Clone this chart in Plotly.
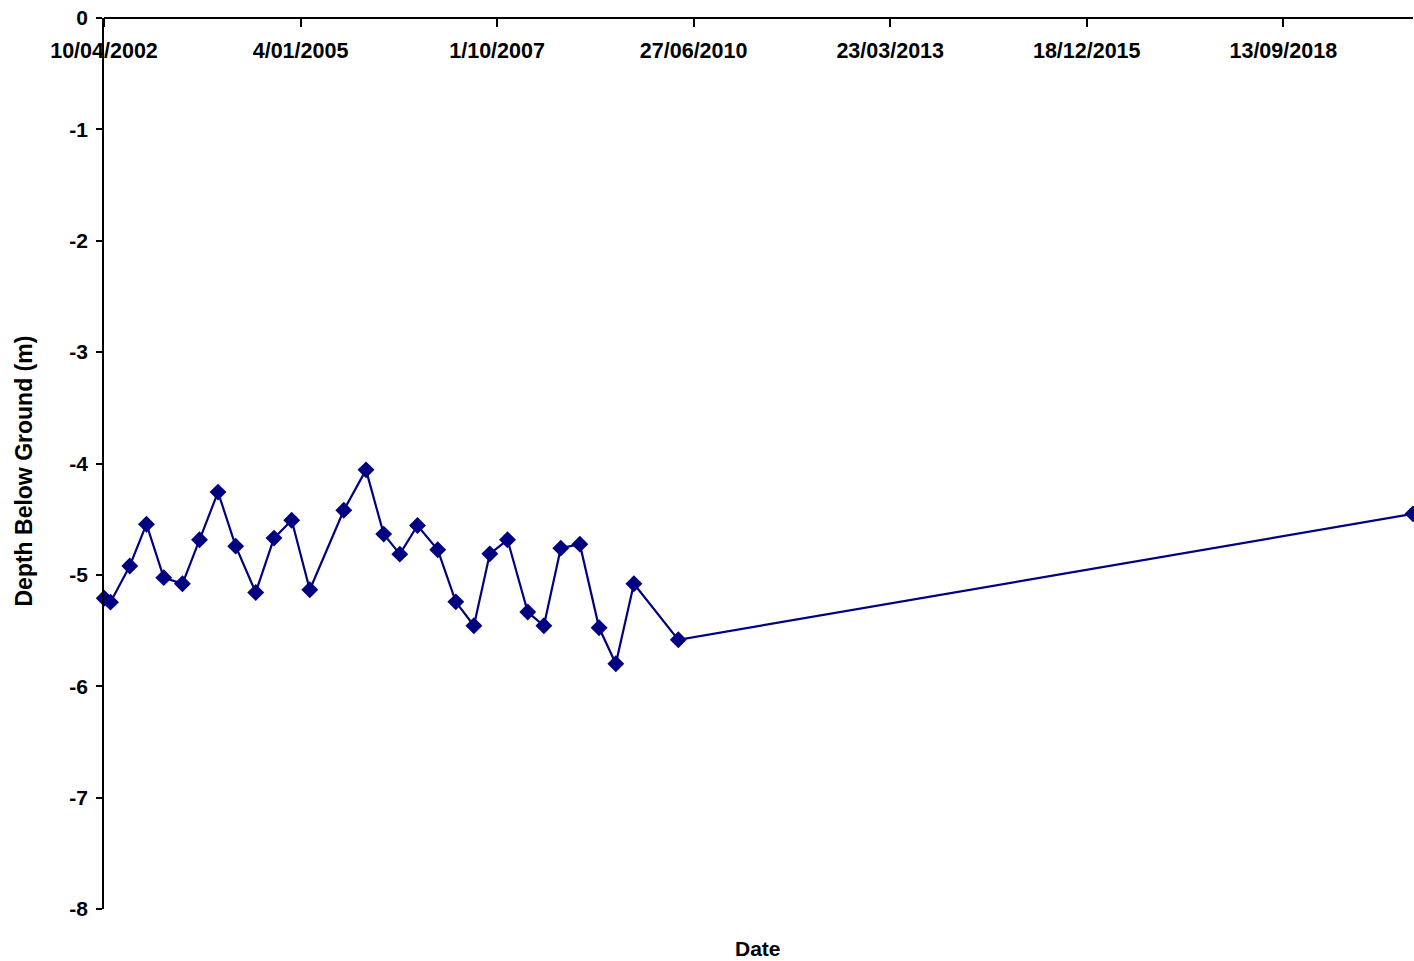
import plotly.graph_objects as go

dates = [
    "2002-04-11", "2002-05-13", "2002-08-19", "2002-11-12", "2003-02-08",
    "2003-05-14", "2003-08-09", "2003-11-11", "2004-02-09", "2004-05-21",
    "2004-08-22", "2004-11-20", "2005-02-20", "2005-08-12", "2005-12-03",
    "2006-03-03", "2006-05-24", "2006-08-22", "2006-12-03", "2007-03-05",
    "2007-06-05", "2007-08-25", "2007-11-23", "2008-03-05", "2008-05-26",
    "2008-08-20", "2008-11-25", "2009-03-03", "2009-05-27", "2009-08-27",
    "2010-04-10", "2020-07-04",
]
depth = [
    -5.21, -5.245, -4.92, -4.545, -5.025,
    -5.08, -4.685, -4.257, -4.742, -5.158,
    -4.67, -4.51, -5.134, -4.42, -4.057,
    -4.634, -4.814, -4.557, -4.775, -5.242,
    -5.457, -4.811, -4.685, -5.334, -5.457,
    -4.76, -4.724, -5.475, -5.798, -5.08,
    -5.583, -4.452,
]
x_tick_vals = ["2002-04-10", "2005-01-04", "2007-10-01", "2010-06-27",
               "2013-03-23", "2015-12-18", "2018-09-13"]
x_tick_text = ["10/04/2002", "4/01/2005", "1/10/2007", "27/06/2010",
               "23/03/2013", "18/12/2015", "13/09/2018"]
y_tick_vals = [0, -1, -2, -3, -4, -5, -6, -7, -8]
y_tick_text = ["0", "-1", "-2", "-3", "-4", "-5", "-6", "-7", "-8"]

navy = "#000080"
font_family = "Liberation Sans, Arial, sans-serif"

fig = go.Figure()
fig.add_trace(go.Scatter(
    x=dates, y=depth, mode="lines+markers",
    line=dict(color=navy, width=2.2),
    marker=dict(symbol="diamond", size=13, color=navy),
    cliponaxis=False, showlegend=False,
))

fig.update_layout(
    width=1414, height=961,
    margin=dict(l=104, r=1, t=18, b=52),
    paper_bgcolor="white", plot_bgcolor="white",
    font=dict(family=font_family, color="black"),
    xaxis=dict(
        anchor="free", position=1.0, side="bottom",
        range=["2002-04-10", "2020-07-04"],
        tickmode="array", tickvals=x_tick_vals, ticktext=x_tick_text,
        ticks="outside", ticklen=8, tickwidth=1.5, tickcolor="black",
        ticklabelstandoff=5,
        tickfont=dict(size=21.5, weight="bold", family=font_family, color="black"),
        showline=True, linecolor="black", linewidth=1.5,
        showgrid=False, zeroline=False, automargin=False,
    ),
    yaxis=dict(
        range=[-8, 0], tickmode="array", tickvals=y_tick_vals,
        ticktext=y_tick_text,
        ticks="outside", ticklen=6, tickwidth=1.5, tickcolor="black",
        tickfont=dict(size=21, weight="bold", family=font_family, color="black"),
        ticklabelstandoff=4,
        showline=True, linecolor="black", linewidth=1.5,
        showgrid=False, zeroline=False, automargin=False,
    ),
    annotations=[
        dict(text="Date", xref="paper", yref="paper", x=0.4997, y=0,
             yshift=-39, showarrow=False, yanchor="middle",
             font=dict(size=21, weight="bold", family=font_family, color="black")),
        dict(text="Depth Below Ground (m)", xref="paper", yref="paper",
             x=0, xshift=-80, y=0.491, textangle=-90, showarrow=False,
             xanchor="center", yanchor="middle",
             font=dict(size=23, weight="bold", family=font_family, color="black")),
    ],
)

fig.write_html(
    "out.html",
    config={"displayModeBar": False},
    post_script="document.body.style.margin='0px';document.body.style.overflow='hidden';",
)
